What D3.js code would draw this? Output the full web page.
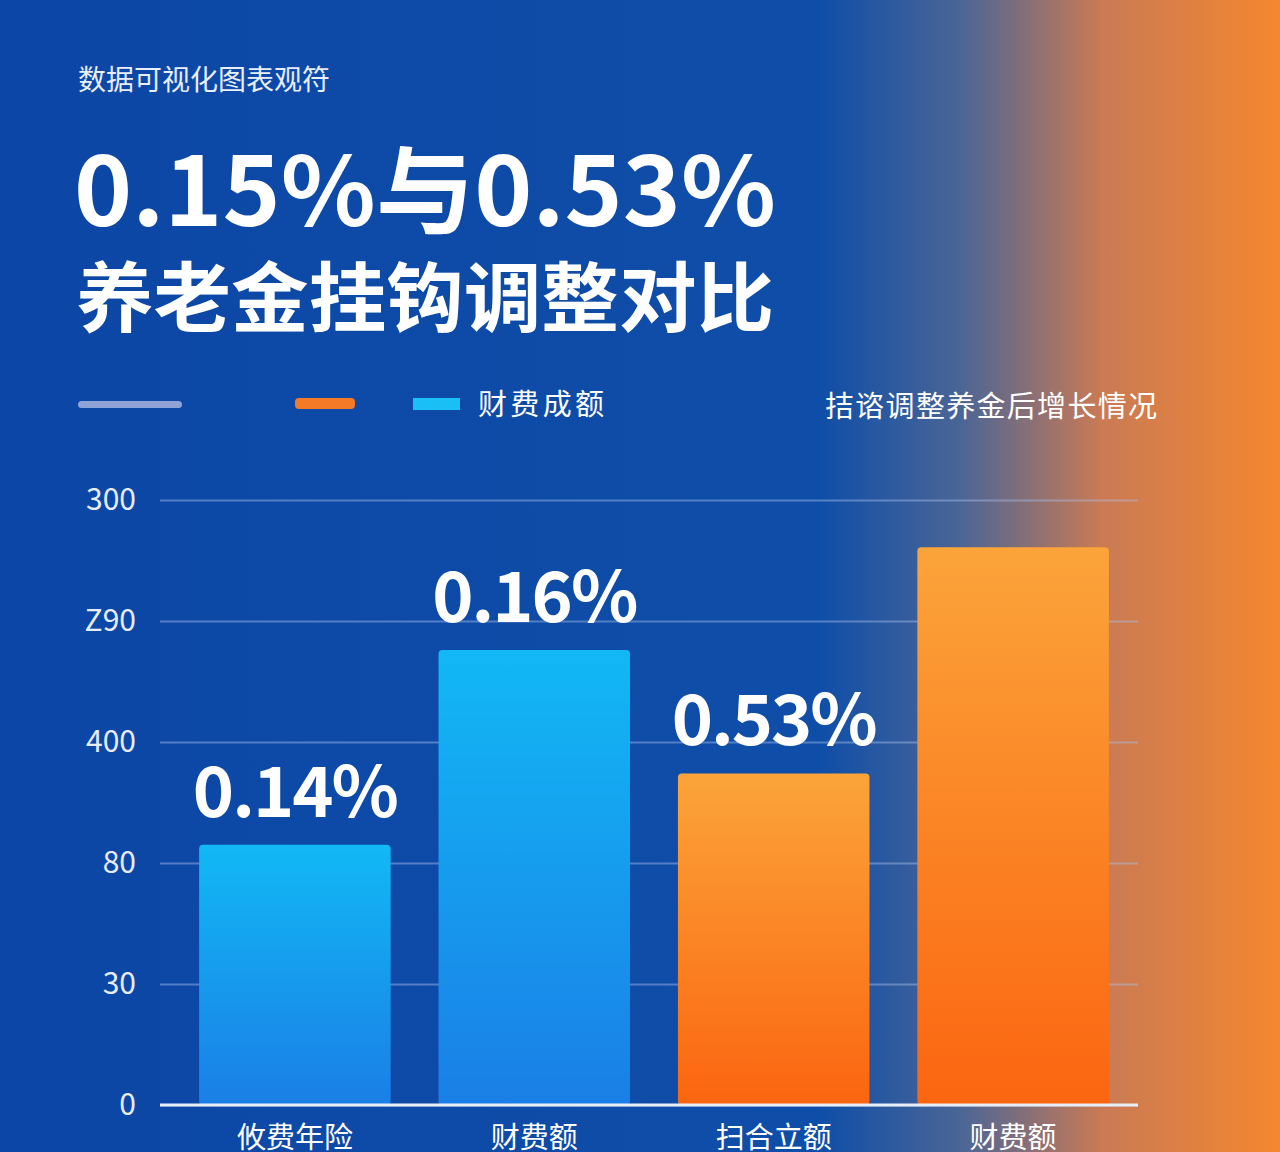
<!DOCTYPE html><html><head><meta charset="utf-8">
<script src="https://cdn.jsdelivr.net/npm/d3@7"></script>
<style>body{margin:0}svg{display:block}text{font-family:"Noto Sans CJK SC","Noto Sans",sans-serif}</style></head><body>
<script>
const categories=["攸费年险","财费额","扫合立额","财费额"];
const values=[2.15,3.76,2.74,4.61];
const valueLabels=["0.14%","0.16%","0.53%",""];
const seriesOf=["blue","blue","orange","orange"];
const tickLabels=["0","30","80","400","Z90","300"];
const W=1280,H=1152;
const svg=d3.select("body").append("svg").attr("width",W).attr("height",H);
const defs=svg.append("defs");
const bg=defs.append("linearGradient").attr("id","bg").attr("x1",0).attr("x2",1);
[[0,"#0c46a6"],[0.64,"#0f4ea8"],[0.75,"#4a6596"],[0.86,"#c97a55"],[1,"#f5872e"]].forEach(s=>bg.append("stop").attr("offset",s[0]).attr("stop-color",s[1]));
const gb=defs.append("linearGradient").attr("id","gb").attr("x1",0).attr("x2",0).attr("y1",0).attr("y2",1);
gb.append("stop").attr("offset",0).attr("stop-color","#12b8f5");gb.append("stop").attr("offset",1).attr("stop-color","#1a7fe6");
const go=defs.append("linearGradient").attr("id","go").attr("x1",0).attr("x2",0).attr("y1",0).attr("y2",1);
go.append("stop").attr("offset",0).attr("stop-color","#fba43a");go.append("stop").attr("offset",1).attr("stop-color","#fb6510");
svg.append("rect").attr("width",W).attr("height",H).attr("fill","url(#bg)");
svg.append("text").attr("x",78).attr("y",90).attr("fill","#e8eefa").attr("font-size",28).text("数据可视化图表观符");
svg.append("text").attr("x",74).attr("y",226).attr("fill","#fff").attr("font-size",96).attr("font-weight",700).attr("textLength",702).attr("lengthAdjust","spacingAndGlyphs").text("0.15%与0.53%");
svg.append("text").attr("x",76).attr("y",326).attr("fill","#fff").attr("font-size",76).attr("font-weight",700).attr("textLength",698).attr("lengthAdjust","spacingAndGlyphs").text("养老金挂钩调整对比");
svg.append("rect").attr("x",78).attr("y",401).attr("width",104).attr("height",7).attr("rx",3.5).attr("fill","#8ea4d8");
svg.append("rect").attr("x",295).attr("y",398).attr("width",60).attr("height",11).attr("rx",4).attr("fill","#f57a28");
svg.append("rect").attr("x",413).attr("y",398).attr("width",47).attr("height",12).attr("fill","#19bff5");
svg.append("text").attr("x",478).attr("y",415).attr("fill","#fff").attr("font-size",29).attr("textLength",126).text("财费成额");
svg.append("text").attr("x",825).attr("y",417).attr("fill","#fff").attr("font-size",29).attr("textLength",332).text("拮谘调整养金后增长情况");
const y=d3.scaleLinear().domain([0,5]).range([1105,500]);
const x=d3.scaleBand().domain(d3.range(categories.length)).range([168,1140]).paddingInner(0.2).paddingOuter(0.13);
const ax=svg.append("g").attr("transform","translate(160,0)").call(d3.axisLeft(y).tickValues(d3.range(6)).tickFormat(i=>tickLabels[i]).tickSize(-978).tickPadding(24));
ax.select(".domain").remove();
ax.selectAll(".tick line").attr("stroke","rgba(170,190,235,0.45)").attr("stroke-width",2);
ax.selectAll(".tick text").attr("fill","#e6ecf8").attr("font-size",30).attr("text-anchor","end").attr("x",-24);
svg.selectAll(".bar").data(values).enter().append("rect").attr("x",(d,i)=>x(i)).attr("y",d=>y(d)).attr("width",x.bandwidth()).attr("height",d=>y(0)-y(d)).attr("rx",4).attr("fill",(d,i)=>seriesOf[i]=="blue"?"url(#gb)":"url(#go)");
svg.append("line").attr("x1",160).attr("x2",1138).attr("y1",1105).attr("y2",1105).attr("stroke","#e8eef8").attr("stroke-width",3);
svg.selectAll(".vl").data(values).enter().append("text").attr("x",(d,i)=>x(i)+x.bandwidth()/2).attr("y",d=>y(d)-28).attr("text-anchor","middle").attr("fill","#fff").attr("font-size",70).attr("font-weight",700).attr("letter-spacing",-2).text((d,i)=>valueLabels[i]);
svg.selectAll(".cl").data(categories).enter().append("text").attr("x",(d,i)=>x(i)+x.bandwidth()/2).attr("y",1148).attr("text-anchor","middle").attr("fill","#fff").attr("font-size",29).text(d=>d);
</script></body></html>
